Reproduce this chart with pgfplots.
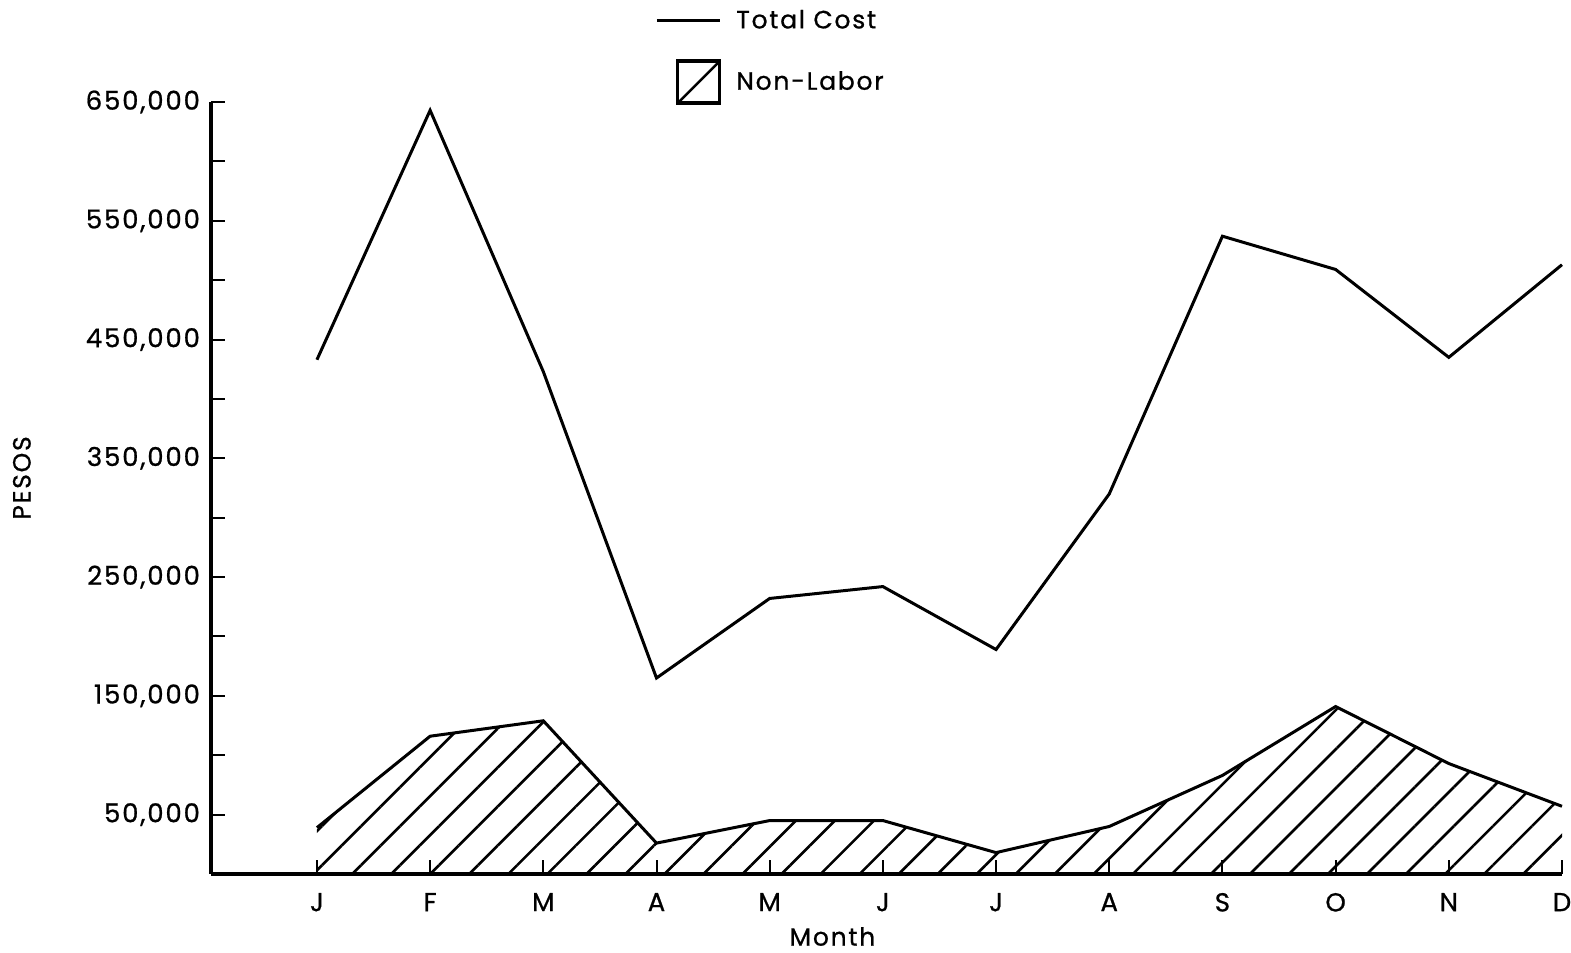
\documentclass[border=0pt]{standalone}
\usepackage{fontspec}
\setmainfont{Poppins}[LetterSpace=7, FakeBold=0.8]
\usepackage{pgfplots}
\pgfplotsset{compat=1.18}
\usetikzlibrary{patterns.meta}

\pgfplotstableread{
x y
1 433000
2 643000
3 423000
4 165000
5 232000
6 242000
7 189000
8 320000
9 537000
10 509000
11 435000
12 513000
}\totalcost

\pgfplotstableread{
x y
1 39000
2 116000
3 129000
4 26000
5 45000
6 45000
7 18000
8 40000
9 83000
10 141000
11 93000
12 57000
}\nonlabor

\begin{document}
\begin{tikzpicture}
\begin{axis}[
  scale only axis, width=675.5pt, height=386pt,
  xmin=0.064, xmax=12, ymin=0, ymax=650000,
  clip=false,
  axis x line=bottom, axis y line=left,
  axis line style={-, line width=2.2pt},
  xtick={1,...,12}, xticklabels={J,F,M,A,M,J,J,A,S,O,N,D},
  ytick={50000,150000,250000,350000,450000,550000,650000},
  yticklabels={{50,000},{150,000},{250,000},{350,000},{450,000},{550,000},{650,000}},
  minor ytick={100000,200000,300000,400000,500000,600000},
  scaled y ticks=false,
  tick align=inside,
  major tick length=7pt, minor tick length=7pt,
  tick style={line width=1pt, black},
  every tick label/.append style={font=\fontsize{13}{15}\selectfont},
  yticklabel style={xshift=-2pt},
  xticklabel style={yshift=-6pt},
  label style={font=\fontsize{12.5}{15}\selectfont},
  xlabel={Month}, ylabel={PESOS},
  xlabel style={at={(axis description cs:0.46,-0.081)}, anchor=center},
  ylabel style={at={(axis description cs:-0.14,0.513)}, anchor=center},
  legend style={at={(rel axis cs:0.3286,1.125)}, anchor=north west,
    draw=none, fill=none, row sep=12pt, inner sep=0pt,
    font=\fontsize{12.5}{15}\selectfont},
  legend cell align=left,
]
\addplot[draw=none, pattern={Lines[angle=45,distance=13.8pt,line width=1.3pt]}, pattern color=black, forget plot]
  table[x=x,y=y]{\nonlabor} \closedcycle;
\addplot[black, line width=1.5pt, sharp plot,
  legend image code/.code={\draw[line width=1.4pt] (0pt,0pt) -- (31.5pt,0pt); \path (37pt,0pt);}]
  table[x=x,y=y]{\totalcost};
\addlegendentry{Total Cost}
\addplot[black, line width=1.5pt, sharp plot,
  legend image code/.code={\path (0pt,0pt); \draw[line width=1.6pt] (10.5pt,-10.5pt) rectangle (31.5pt,10.5pt); \draw[line width=1.2pt] (10.5pt,-10.5pt) -- (31.5pt,10.5pt); \path (37pt,0pt);}]
  table[x=x,y=y]{\nonlabor};
\addlegendentry{Non-Labor}
\end{axis}
\pgfresetboundingbox
\useasboundingbox (current axis.south west) ++(-105.5pt,-39.5pt) rectangle ++(785.5pt,476.5pt);
\end{tikzpicture}
\end{document}
